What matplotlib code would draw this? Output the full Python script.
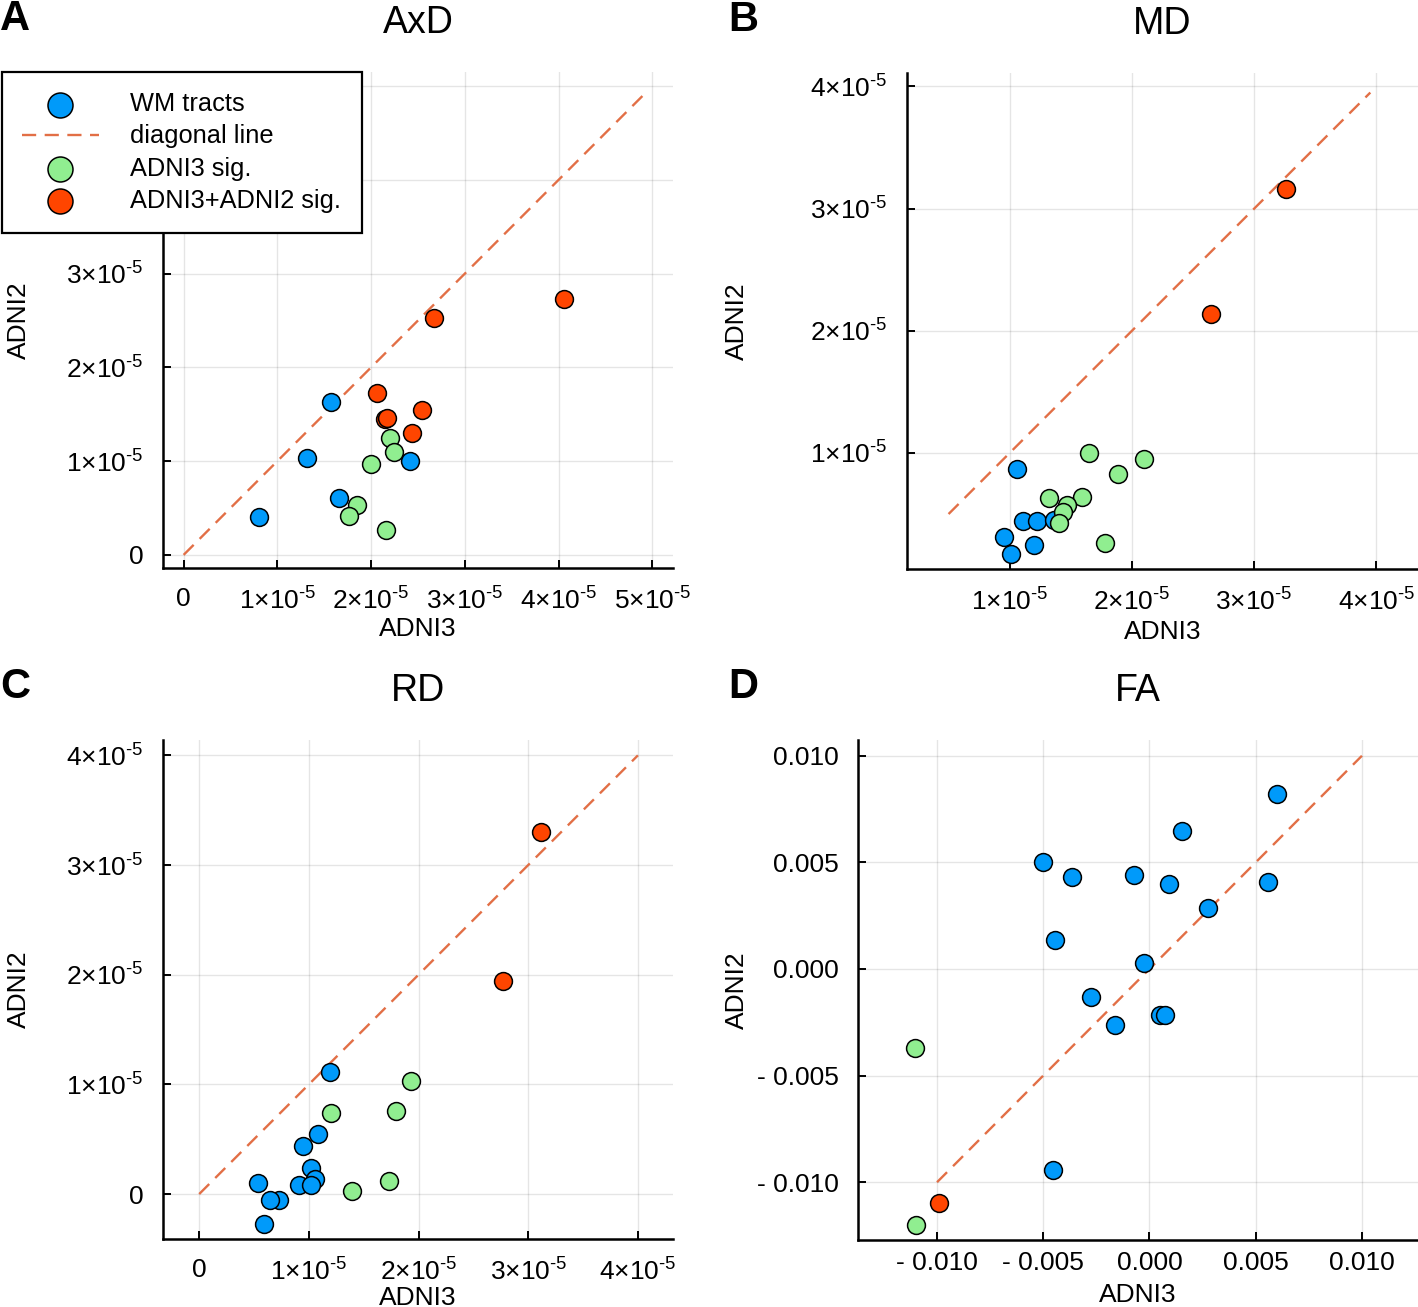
import matplotlib
matplotlib.use('Agg')
import numpy as np
from matplotlib import pyplot as plt

plt.rcParams['font.family'] = ['Liberation Sans', 'DejaVu Sans']
plt.rcParams['mathtext.fontset'] = 'custom'
plt.rcParams['mathtext.rm'] = 'Liberation Sans'
plt.rcParams['mathtext.it'] = 'Liberation Sans:italic'
plt.rcParams['mathtext.bf'] = 'Liberation Sans:bold'

# values in units of 1e-5 (AxD, MD, RD) and 1e-3 (FA)
axd_blue_x = [0.80, 1.32, 1.57, 1.66, 2.41]
axd_blue_y = [0.40, 1.03, 1.63, 0.61, 1.00]
axd_green_x = [2.00, 2.20, 2.24, 1.85, 1.76, 2.16]
axd_green_y = [0.97, 1.25, 1.10, 0.53, 0.41, 0.27]
axd_red_x = [2.06, 2.15, 2.17, 2.54, 2.44, 2.67, 4.06]
axd_red_y = [1.73, 1.45, 1.46, 1.55, 1.30, 2.53, 2.73]

md_blue_x = [1.06, 1.11, 1.22, 0.95, 1.20, 1.01, 1.36]
md_blue_y = [0.87, 0.44, 0.44, 0.31, 0.25, 0.17, 0.45]
md_green_x = [1.65, 2.10, 1.89, 1.32, 1.59, 1.47, 1.44, 1.40, 1.78]
md_green_y = [1.00, 0.95, 0.83, 0.63, 0.64, 0.57, 0.52, 0.43, 0.26]
md_red_x = [3.26, 2.65]
md_red_y = [3.16, 2.14]

rd_blue_x = [1.19, 1.08, 0.95, 1.02, 1.06, 0.91, 1.02, 0.54, 0.73, 0.65, 0.59]
rd_blue_y = [1.11, 0.55, 0.44, 0.24, 0.14, 0.08, 0.08, 0.10, -0.05, -0.05, -0.27]
rd_green_x = [1.93, 1.20, 1.79, 1.73, 1.39]
rd_green_y = [1.03, 0.74, 0.76, 0.12, 0.03]
rd_red_x = [3.12, 2.77]
rd_red_y = [3.30, 1.94]

fa_blue_x = [5.99, 1.55, -5.03, -3.65, -0.72, 0.94, 5.59, 2.74, -4.43, -0.27, -2.73, -1.60, 0.48, 0.73, -4.52]
fa_blue_y = [8.20, 6.47, 5.00, 4.30, 4.42, 3.98, 4.10, 2.87, 1.37, 0.27, -1.29, -2.63, -2.18, -2.14, -9.41]
fa_green_x = [-11.03, -11.01]
fa_green_y = [-3.71, -11.99]
fa_red_x = [-9.92]
fa_red_y = [-10.96]

W, H = 1418, 1307
BLUE = '#009AFA'
GREEN = '#90EE90'
RED = '#FF4500'
LINE = '#E26F46'


def px_rect(l, t, r, b):
    return [l / W, 1 - b / H, (r - l) / W, (b - t) / H]


def sci_label(v):
    if v == 0:
        return '0'
    return r'$%d{\times}10^{\text{-}5}$' % v


def fa_label(v):
    if v < 0:
        return '- %.3f' % abs(v / 1000)
    return '%.3f' % (v / 1000)


panels = [
    dict(title='AxD', letter='A', rect=(163, 72, 673, 568), scale=1e-5,
         blue=(axd_blue_x, axd_blue_y), green=(axd_green_x, axd_green_y), red=(axd_red_x, axd_red_y),
         diag=(0, 4.94), xlim=(-0.22, 5.22), ylim=(-0.14, 5.15),
         xticks=[0, 1, 2, 3, 4, 5], yticks=[0, 1, 2, 3, 4, 5], fmt=sci_label,
         xpad=14, xlpad=2, ylx=31),
    dict(title='MD', letter='B', rect=(907, 73, 1418, 569), scale=1e-5,
         blue=(md_blue_x, md_blue_y), green=(md_green_x, md_green_y), red=(md_red_x, md_red_y),
         diag=(0.5, 3.95), xlim=(0.16, 4.34), ylim=(0.05, 4.11),
         xticks=[1, 2, 3, 4], yticks=[1, 2, 3, 4], fmt=sci_label,
         xpad=14, xlpad=3, ylx=749),
    dict(title='RD', letter='C', rect=(163, 740, 673, 1239), scale=1e-5,
         blue=(rd_blue_x, rd_blue_y), green=(rd_green_x, rd_green_y), red=(rd_red_x, rd_red_y),
         diag=(0, 4.0), xlim=(-0.33, 4.32), ylim=(-0.41, 4.14),
         xticks=[0, 1, 2, 3, 4], yticks=[0, 1, 2, 3, 4], fmt=sci_label,
         xpad=14, xlpad=0, ylx=31),
    dict(title='FA', letter='D', rect=(858, 740, 1418, 1240), scale=1e-3,
         blue=(fa_blue_x, fa_blue_y), green=(fa_green_x, fa_green_y), red=(fa_red_x, fa_red_y),
         diag=(-10, 10), xlim=(-13.72, 12.64), ylim=(-12.71, 10.74),
         xticks=[-10, -5, 0, 5, 10], yticks=[-10, -5, 0, 5, 10], fmt=fa_label,
         xpad=8, xlpad=6, ylx=749),
]

fig = plt.figure(figsize=(W / 100, H / 100), dpi=100)

for p in panels:
    ax = fig.add_axes(px_rect(*p['rect']))
    s = p['scale']
    d0, d1 = p['diag']
    ax.plot([d0 * s, d1 * s], [d0 * s, d1 * s], ls=(0, (6, 3.6)), color=LINE, lw=1.7,
            label='diagonal line', zorder=2)
    kw = dict(s=165, edgecolors='black', linewidths=1.1, zorder=3)
    bx, by = p['blue']
    ax.scatter(np.array(bx) * s, np.array(by) * s, color=BLUE, label='WM tracts', **kw)
    gx, gy = p['green']
    ax.scatter(np.array(gx) * s, np.array(gy) * s, color=GREEN, label='ADNI3 sig.', **kw)
    rx, ry = p['red']
    ax.scatter(np.array(rx) * s, np.array(ry) * s, color=RED, label='ADNI3+ADNI2 sig.', **kw)

    ax.set_xlim(p['xlim'][0] * s, p['xlim'][1] * s)
    ax.set_ylim(p['ylim'][0] * s, p['ylim'][1] * s)
    ax.set_xticks([v * s for v in p['xticks']])
    ax.set_xticklabels([p['fmt'](v) for v in p['xticks']])
    ax.set_yticks([v * s for v in p['yticks']])
    ax.set_yticklabels([p['fmt'](v) for v in p['yticks']])

    ax.grid(True, color='black', alpha=0.1, lw=1)
    ax.set_axisbelow(True)
    for side in ['top', 'right']:
        ax.spines[side].set_visible(False)
    for side in ['left', 'bottom']:
        ax.spines[side].set_linewidth(1.8)
    ax.tick_params(direction='in', length=6, width=1.4, labelsize=19, pad=14)
    ax.tick_params(axis='x', pad=p['xpad'])

    ax.set_title(p['title'], fontsize=27, pad=28)
    ax.set_xlabel('ADNI3', fontsize=19, labelpad=p['xlpad'])
    ax.set_ylabel('ADNI2', fontsize=19)
    l, t, r, b = p['rect']
    ax.yaxis.set_label_coords((p['ylx'] - l) / (r - l), 0.5)

    lx = 0 if p['letter'] in 'AC' else 728
    fig.text(lx / W, 1 - (t - 53) / H, p['letter'], fontsize=30, fontweight='bold',
             ha='left', va='center')

    if p['letter'] == 'A':
        handles, labels = ax.get_legend_handles_labels()
        order = [1, 0, 2, 3]
        leg = ax.legend([handles[i] for i in order], [labels[i] for i in order],
                        loc='upper left', bbox_to_anchor=((2 - l) / (r - l), 1.0),
                        fontsize=18.3, frameon=True, fancybox=False, framealpha=1,
                        edgecolor='black', handlelength=3.0, handletextpad=1.25,
                        borderpad=0.8, labelspacing=0.32, borderaxespad=0, markerscale=1.4)
        leg.get_frame().set_linewidth(1.6)
        leg.set_zorder(10)

fig.savefig('out.png', dpi=100)
